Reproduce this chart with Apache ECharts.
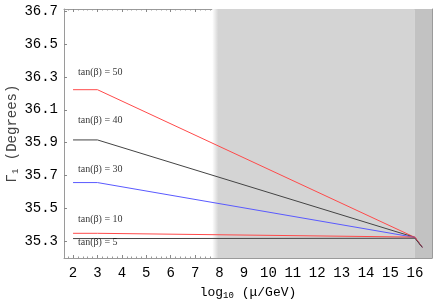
<!DOCTYPE html>
<html><head><meta charset="utf-8">
<script src="https://cdn.jsdelivr.net/npm/echarts@6/dist/echarts.min.js"></script>
<style>html,body{margin:0;padding:0;background:#fff}#c{width:436px;height:305px}</style>
</head><body><div id="c"></div>
<script>
// x positions (log10 mu/GeV)
var xs = [2, 3, 16, 16.3];
// series values
var tan50 = [36.222, 36.222, 35.325, 35.265];
var tan40 = [35.917, 35.917, 35.325, 35.265];
var tan30 = [35.658, 35.658, 35.325, 35.265];
var tan10 = [35.350, 35.350, 35.327, 35.265];
var tan5  = [35.318, 35.318, 35.320, 35.265];
var seriesNames = ['tan50','tan40','tan30','tan10','tan5'];
// annotation labels [x, y, text]
var labelX = [2.2, 2.2, 2.2, 2.2, 2.2];
var labelY = [36.33, 36.035, 35.737, 35.437, 35.293];
var labelText = ['tan(\u03b2) = 50','tan(\u03b2) = 40','tan(\u03b2) = 30','tan(\u03b2) = 10','tan(\u03b2) = 5'];
// ticks
var xTicks = [2,3,4,5,6,7,8,9,10,11,12,13,14,15,16];
var xMinorTicks = [];
for (var v = 18; v <= 166; v += 2) { if (v % 10 !== 0) xMinorTicks.push(v / 10); }
var yTicks = [35.3, 35.5, 35.7, 35.9, 36.1, 36.3, 36.5, 36.7];
// shaded regions
var region1 = [7.7, 16];
var region2 = [16, 16.7];

function pairs(ys){ return xs.map(function(x,i){ return [x, ys[i]]; }); }

var chart = echarts.init(document.getElementById('c'), null, {renderer:'canvas'});
var mono = 'Liberation Mono';
var frame = {show:true, lineStyle:{color:'#9a9a9a', width:1}};
var option = {
  animation:false,
  backgroundColor:'#fff',
  grid:{left:64, right:4, top:9, bottom:47, containLabel:false, outerBoundsMode:'none'},
  xAxis:[
    {type:'value', min:1.63, max:16.7, position:'bottom',
     axisLine:frame, splitLine:{show:false},
     axisTick:{show:true, inside:true, length:3, customValues:xTicks, lineStyle:{color:'#888'}},
     axisLabel:{customValues:xTicks, fontFamily:mono, fontSize:14, color:'#000', margin:8},
     name:'{a|log}{s|10}{a| (\u03bc/GeV)}', nameLocation:'middle', nameGap:27,
     nameTextStyle:{rich:{a:{fontFamily:mono, fontSize:13, color:'#000'}, s:{fontFamily:mono, fontSize:9, color:'#000', verticalAlign:'bottom', padding:[6,0,0,0]}}}
    },
    {type:'value', min:1.63, max:16.7, position:'top',
     axisLine:frame, splitLine:{show:false},
     axisTick:{show:true, inside:true, length:3, customValues:xTicks, lineStyle:{color:'#888'}},
     axisLabel:{show:false}},
    {type:'value', min:1.63, max:16.7, position:'bottom', gridIndex:0,
     axisLine:{show:false}, splitLine:{show:false},
     axisTick:{show:true, inside:true, length:1.5, customValues:xMinorTicks, lineStyle:{color:'#999'}},
     axisLabel:{show:false}},
    {type:'value', min:1.63, max:16.7, position:'top', gridIndex:0,
     axisLine:{show:false}, splitLine:{show:false},
     axisTick:{show:true, inside:true, length:1.5, customValues:xMinorTicks, lineStyle:{color:'#999'}},
     axisLabel:{show:false}}
  ],
  yAxis:[
    {type:'value', min:35.2, max:36.712, position:'left',
     axisLine:frame, splitLine:{show:false},
     axisTick:{show:true, inside:true, length:3, customValues:yTicks, lineStyle:{color:'#888'}},
     axisLabel:{customValues:yTicks, fontFamily:mono, fontSize:14, color:'#000', margin:6,
                formatter:function(v){return v.toFixed(1);}},
     name:'{a|\u0393}{s|1}{a| (Degrees)}', nameLocation:'middle', nameGap:44, nameMoveOverlap:false,
     nameTextStyle:{rich:{a:{fontFamily:mono, fontSize:14, color:'#444'}, s:{fontFamily:mono, fontSize:9, color:'#444', verticalAlign:'bottom', padding:[6,0,0,0]}}}
    },
    {type:'value', min:35.2, max:36.712, position:'right',
     axisLine:frame, splitLine:{show:false},
     axisTick:{show:true, inside:true, length:3, customValues:yTicks, lineStyle:{color:'#888'}},
     axisLabel:{show:false}}
  ],
  series:[
    {type:'line', data:[], z:1, silent:true,
     markArea:{silent:true, data:[
       [{xAxis:region1[0], itemStyle:{color:new echarts.graphic.LinearGradient(0,0,1,0,[
          {offset:0,color:'#ffffff'},{offset:0.03,color:'#d4d4d4'},{offset:1,color:'#d4d4d4'}])}},
        {xAxis:region1[1]}],
       [{xAxis:region2[0], itemStyle:{color:'#c2c2c2'}},{xAxis:region2[1]}]
     ]}},
    {name:seriesNames[0], type:'line', data:pairs(tan50), symbol:'none', z:3, lineStyle:{color:'#ff4a4a', width:1}},
    {name:seriesNames[1], type:'line', data:pairs(tan40), symbol:'none', z:3, lineStyle:{color:'#444444', width:1}},
    {name:seriesNames[2], type:'line', data:pairs(tan30), symbol:'none', z:3, lineStyle:{color:'#5a5aff', width:1}},
    {name:seriesNames[3], type:'line', data:pairs(tan10), symbol:'none', z:3, lineStyle:{color:'#ff4a4a', width:1}},
    {name:seriesNames[4], type:'line', data:pairs(tan5), symbol:'none', z:3, lineStyle:{color:'#444444', width:1}},
    {type:'scatter', symbolSize:0, z:4, silent:true,
     data:labelText.map(function(t,i){return {name:t, value:[labelX[i], labelY[i]]};}),
     label:{show:true, position:'right', distance:0, formatter:'{b}', fontFamily:'Liberation Serif', fontSize:10, color:'#000'}}
  ]
};
chart.setOption(option);
</script></body></html>
